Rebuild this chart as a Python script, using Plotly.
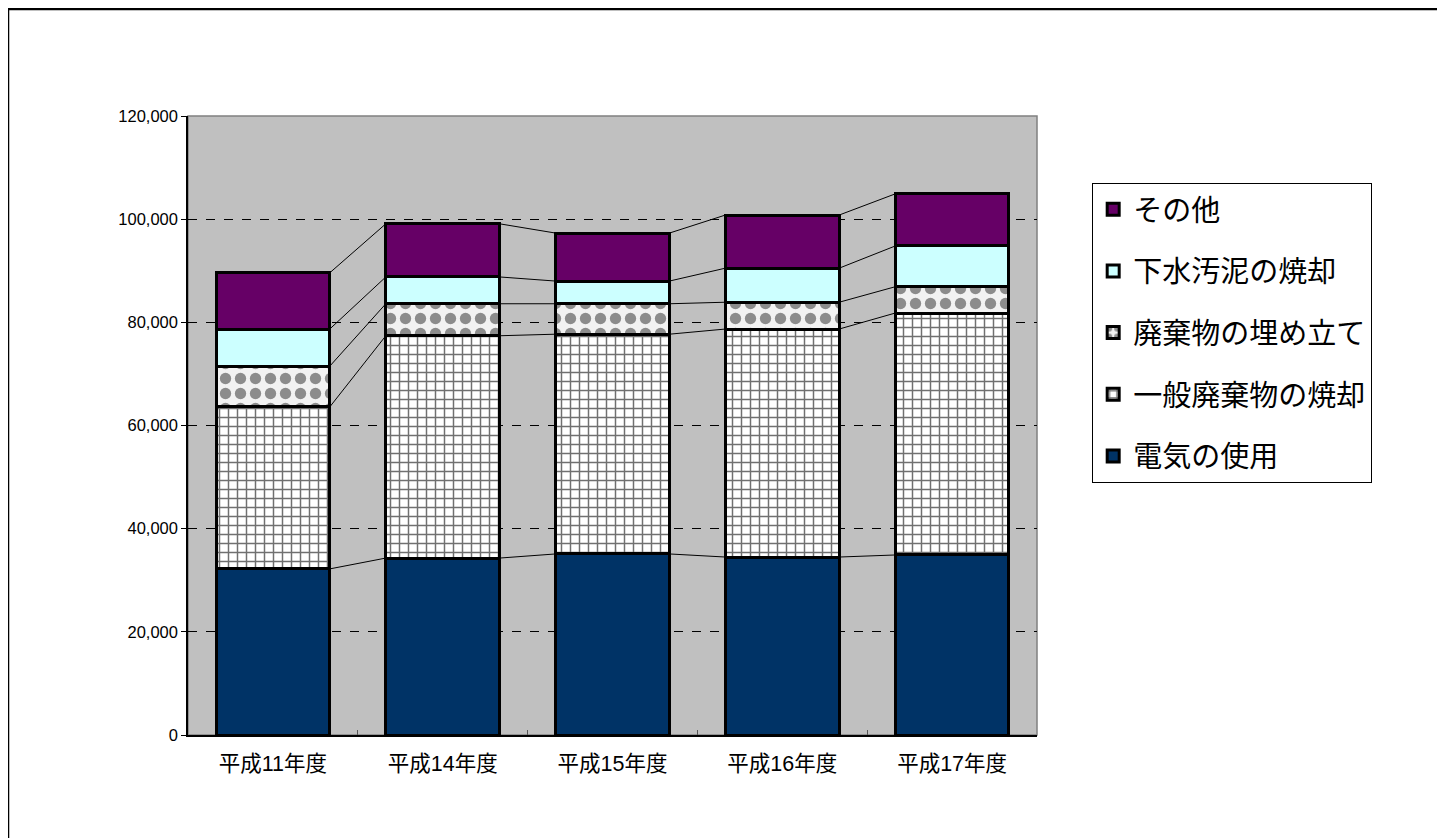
import plotly.graph_objects as go
import numpy as np

categories = ["平成11年度", "平成14年度", "平成15年度", "平成16年度", "平成17年度"]
series_names = ["電気の使用", "一般廃棄物の焼却", "廃棄物の埋め立て", "下水汚泥の焼却", "その他"]
electricity = [32200, 34300, 35100, 34500, 34900]
general_waste = [31400, 43100, 42600, 44200, 46900]
landfill = [7900, 6200, 5900, 5200, 5100]
sewage = [7200, 5200, 4400, 6600, 7900]
other = [10900, 10300, 9300, 10300, 10100]
y_ticks = [0, 20000, 40000, 60000, 80000, 100000, 120000]

series_values = [electricity, general_waste, landfill, sewage, other]
colors = ["#003366", "#ffffff", "#f2f2f2", "#ccffff", "#660066"]
patterns = [
    dict(shape=""),
    dict(shape="+", fgcolor="#707070", bgcolor="#ffffff", fgopacity=1, size=9, solidity=0.3),
    dict(shape=".", fgcolor="#8c8c8c", bgcolor="#f2f2f2", fgopacity=1, size=15, solidity=0.45),
    dict(shape=""),
    dict(shape=""),
]

FONT = "Liberation Sans, Arial, Noto Sans CJK JP, sans-serif"
bar_width = 0.67
xpos = list(range(len(categories)))

fig = go.Figure()
n = len(series_names)
for i, (name, vals) in enumerate(zip(series_names, series_values)):
    fig.add_trace(go.Bar(
        x=xpos, y=vals, name=name, width=bar_width,
        marker=dict(color=colors[i], line=dict(color="black", width=3), pattern=patterns[i]),
        legendgroup=name, legendrank=n - i,
    ))

# series connector lines between stacked bars
cum = np.cumsum(np.array(series_values), axis=0)
for k in range(cum.shape[0]):
    for i in range(len(categories) - 1):
        fig.add_trace(go.Scatter(
            x=[xpos[i] + bar_width / 2, xpos[i + 1] - bar_width / 2],
            y=[cum[k][i], cum[k][i + 1]],
            mode="lines", line=dict(color="black", width=1),
            showlegend=False, hoverinfo="skip",
        ))

fig.update_layout(
    width=1445, height=838,
    margin=dict(l=180, r=416, t=108, b=111),
    barmode="stack",
    paper_bgcolor="white",
    plot_bgcolor="#c0c0c0",
    font=dict(family=FONT, size=16, color="black"),
    legend=dict(
        x=1.065, y=0.892, xanchor="left", yanchor="top",
        traceorder="grouped",
        tracegroupgap=21,
        bgcolor="white", bordercolor="black", borderwidth=1,
        font=dict(family=FONT, size=29, color="black"),
        itemwidth=30,
    ),
    xaxis=dict(
        range=[-0.5, len(categories) - 0.5],
        tickvals=xpos, ticktext=categories,
        showgrid=False, zeroline=False,
        showline=True, linecolor="black", linewidth=1.5,
        ticks="", tickfont=dict(size=21.5), ticklabelstandoff=8,
        minor=dict(tickvals=[x + 0.5 for x in xpos[:-1]], ticks="inside", ticklen=5,
                   tickcolor="#555555", showgrid=False),
    ),
    yaxis=dict(
        range=[0, 120000],
        tickvals=y_ticks, tickformat=",",
        showgrid=True, gridcolor="black", gridwidth=1, griddash="dash",
        zeroline=False,
        showline=True, linecolor="black", linewidth=1.5,
        ticks="outside", ticklen=5, tickcolor="black",
        tickfont=dict(size=16.5),
    ),
    shapes=[
        dict(type="rect", xref="paper", yref="paper", x0=0, x1=1, y0=0, y1=1,
             line=dict(color="#808080", width=1.5), layer="below"),
        dict(type="rect", xref="paper", yref="paper", x0=-0.212, x1=1.4735, y0=-0.3, y1=1.173,
             line=dict(color="black", width=2.5)),
    ],
)

fig.write_html("out.html")
